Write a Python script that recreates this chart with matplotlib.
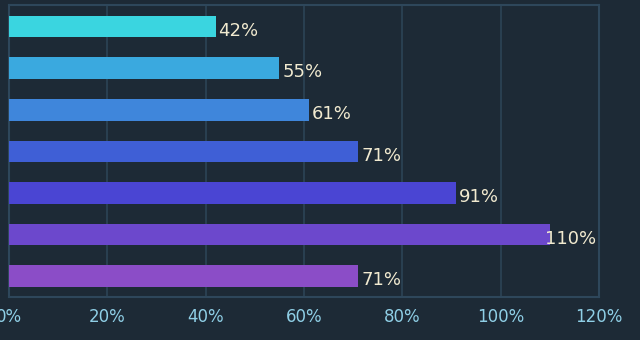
import matplotlib
matplotlib.use('Agg')
import matplotlib.pyplot as plt

# bar values in percent, top to bottom
values = [42, 55, 61, 71, 91, 110, 71]
colors = ['#3ad5e0', '#3aa9df', '#3f86db', '#3f5fd6', '#4a45d3', '#6c48cc', '#8b4dc7']
xticks = [0, 20, 40, 60, 80, 100, 120]

bg = '#1d2a36'
fig = plt.figure(figsize=(6.4, 3.4), dpi=100, facecolor=bg)
ax = fig.add_axes([9 / 640, 43 / 340, 590 / 640, 292 / 340])
ax.set_facecolor(bg)

pos = list(range(len(values)))
ax.barh(pos, values, height=0.52, color=colors, zorder=3)

for p, v in zip(pos, values):
    x = min(v + 0.6, 109)
    ax.text(x, p + 0.1, f'{v}%', va='center', ha='left',
            color='#f1ead0', fontsize=13, zorder=4)

ax.set_xlim(0, 120)
ax.set_ylim(6.5, -0.52)
ax.set_xticks(xticks)
ax.set_xticklabels([f'{t}%' for t in xticks])
ax.set_yticks([])
ax.tick_params(axis='x', length=0, pad=8, labelsize=12, labelcolor='#8fcfe6')
ax.grid(axis='x', color='#2c4456', linewidth=1.2, zorder=0)
for s in ax.spines.values():
    s.set_color('#2e475b')
    s.set_linewidth(1.5)

fig.savefig('out.png', dpi=100, facecolor=bg)
